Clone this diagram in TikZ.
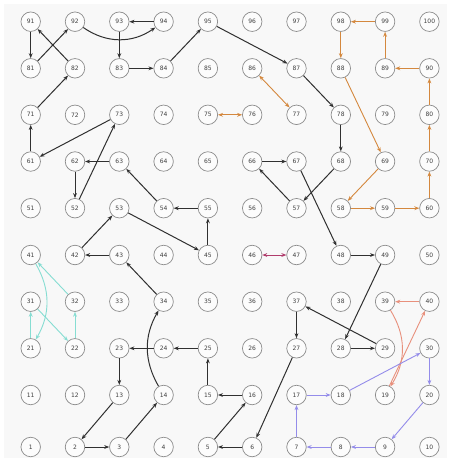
\documentclass[tikz,border=0pt]{standalone}
\usepackage{fontspec}
\setmainfont{DejaVu Sans}
\usetikzlibrary{arrows.meta}
\definecolor{bk}{HTML}{303030}
\definecolor{orc}{HTML}{D4883E}
\definecolor{tlc}{HTML}{86DDD2}
\definecolor{smc}{HTML}{E8907C}
\definecolor{puc}{HTML}{948CEA}
\definecolor{crc}{HTML}{B03C6C}
\definecolor{ringc}{HTML}{8C8C8C}
\definecolor{cellfill}{HTML}{FCFCFC}
\definecolor{bgc}{HTML}{F8F8F8}
\definecolor{txt}{HTML}{404040}
\begin{document}
\begin{tikzpicture}[x=1pt,y=-1pt,
  cell/.style={circle,draw=ringc,fill=cellfill,line width=0.7pt,minimum size=19.5pt,inner sep=0pt,font=\fontsize{6}{6}\selectfont,text=txt},
  lk/.style={-{Stealth[length=5pt,width=3.8pt]},line width=1pt,draw=bk},
  orl/.style={-{Stealth[length=5pt,width=3.8pt]},line width=0.9pt,draw=orc},
  orb/.style={{Stealth[length=5pt,width=3.8pt]}-{Stealth[length=5pt,width=3.8pt]},line width=0.9pt,draw=orc},
  tll/.style={-{Stealth[length=5pt,width=3.8pt]},line width=0.9pt,draw=tlc},
  sml/.style={-{Stealth[length=5pt,width=3.8pt]},line width=0.9pt,draw=smc},
  pul/.style={-{Stealth[length=5pt,width=3.8pt]},line width=0.9pt,draw=puc},
  crb/.style={{Stealth[length=5pt,width=3.8pt]}-{Stealth[length=5pt,width=3.8pt]},line width=0.9pt,draw=crc}]
\useasboundingbox (0,0) rectangle (451,467);
\fill[white] (0,0) rectangle (451,467);
\fill[bgc] (4,4) rectangle (447,458);
\foreach \r/\yy in {0/447,1/395,2/348.3,3/301.7,4/255,5/208.2,6/161.5,7/114.8,8/68.3,9/21.7}{
  \foreach \c in {1,...,10}{
    \pgfmathtruncatemacro{\n}{10*\r+\c}
    \node[cell] (n\n) at ({30.7+44.3*(\c-1)},\yy) {\n};
  }
}
% black path
\foreach \a/\b in {91/81,81/92,82/91,94/93,93/83,83/84,84/95,95/87,87/78,78/68,68/57,57/66,66/67,67/48,48/49,49/28,28/29,29/37,37/27,27/6,6/5,5/16,16/15,15/25,25/24,24/23,23/13,13/2,2/3,3/14,34/43,43/42,42/53,53/45,45/55,55/54,54/63,63/62,62/52,52/73,73/61,61/71,71/82}
  \draw[lk] (n\a) -- (n\b);
\draw[lk] (n92) to[bend right=35] (n94);
\draw[lk] (n14) to[bend left=30] (n34);
% orange
\foreach \a/\b in {99/98,98/88,88/69,69/58,58/59,59/60,60/70,70/80,80/90,90/89,89/99}
  \draw[orl] (n\a) -- (n\b);
\draw[orb] (n75) -- (n76);
\draw[orb] (n86) -- (n77);
% teal
\foreach \a/\b in {32/41,21/31,31/22,22/32}
  \draw[tll] (n\a) -- (n\b);
\draw[tll] (n41) to[bend left=30] (n21);
% salmon
\draw[sml] (n40) -- (n39);
\draw[sml] (n19) -- (n40);
\draw[sml] (n39) to[bend left=32] (n19);
% purple
\foreach \a/\b in {30/20,20/9,9/8,8/7,7/17,17/18,18/30}
  \draw[pul] (n\a) -- (n\b);
% crimson
\draw[crb] (n46) -- (n47);
\end{tikzpicture}
\end{document}
